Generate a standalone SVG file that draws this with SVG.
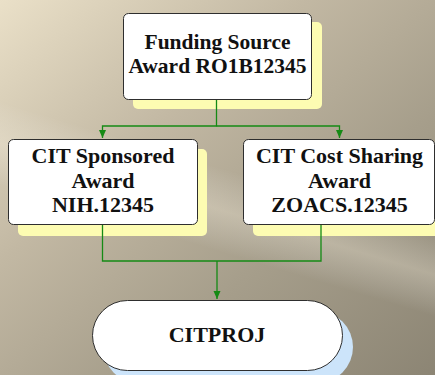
<svg xmlns="http://www.w3.org/2000/svg" width="435" height="375" viewBox="0 0 435 375">
  <defs>
    <linearGradient id="bg" x1="0" y1="0" x2="1" y2="1">
      <stop offset="0" stop-color="#eae0c8"/>
      <stop offset="0.35" stop-color="#c2b8a3"/>
      <stop offset="0.65" stop-color="#a69e8b"/>
      <stop offset="1" stop-color="#8c8574"/>
    </linearGradient>
    <linearGradient id="streak" x1="0" y1="1" x2="0.35" y2="0" gradientUnits="objectBoundingBox">
      <stop offset="0" stop-color="#ffffff" stop-opacity="0"/>
      <stop offset="0.45" stop-color="#ffffff" stop-opacity="0"/>
      <stop offset="0.55" stop-color="#fff8e8" stop-opacity="0.28"/>
      <stop offset="0.65" stop-color="#ffffff" stop-opacity="0"/>
      <stop offset="1" stop-color="#ffffff" stop-opacity="0"/>
    </linearGradient>
    <marker id="arrow" viewBox="0 0 8 8" refX="8" refY="4" markerWidth="8" markerHeight="8" markerUnits="userSpaceOnUse" orient="auto">
      <path d="M0,0.5 L8,4 L0,7.5 Z" fill="#158a15"/>
    </marker>
  </defs>
  <style>
    .shadow { fill: #fdfcb2; }
    .shadow2 { fill: #cce4fa; }
    .box { fill: #ffffff; stroke: #2e2e2e; stroke-width: 1; }
    .label { font-family: "Liberation Serif", "Times New Roman", serif; font-weight: bold; font-size: 22px; fill: #111111; text-anchor: middle; }
    .top { font-size: 21.5px; }
    .conn { fill: none; stroke: #158a15; stroke-width: 1.3; }
  </style>
  <rect x="0" y="0" width="435" height="375" fill="url(#bg)"/>
  <rect x="0" y="0" width="435" height="375" fill="url(#streak)"/>

  <g id="node-funding">
    <rect class="shadow" x="133" y="22" width="189" height="87" rx="5"/>
    <rect class="box" x="123.5" y="13.5" width="188" height="86" rx="5"/>
    <text class="label top" x="217.5" y="49">Funding Source</text>
    <text class="label top" x="217.5" y="73">Award RO1B12345</text>
  </g>

  <g id="node-sponsored">
    <rect class="shadow" x="18" y="149" width="189" height="87" rx="5"/>
    <rect class="box" x="8.5" y="139.5" width="189" height="85" rx="5"/>
    <text class="label" x="103" y="163">CIT Sponsored</text>
    <text class="label" x="103" y="188">Award</text>
    <text class="label" x="103" y="212">NIH.12345</text>
  </g>

  <g id="node-costsharing">
    <rect class="shadow" x="253" y="149" width="192" height="87" rx="5"/>
    <rect class="box" x="243.5" y="139.5" width="191" height="85" rx="5"/>
    <text class="label" x="339.5" y="163">CIT Cost Sharing</text>
    <text class="label" x="339.5" y="188">Award</text>
    <text class="label" x="339.5" y="212">ZOACS.12345</text>
  </g>

  <g id="node-citproj">
    <rect class="shadow2" x="103" y="311" width="250" height="72" rx="36"/>
    <rect class="box" x="92.5" y="300.5" width="250" height="70" rx="35"/>
    <text class="label" x="217" y="342">CITPROJ</text>
  </g>

  <g id="connectors">
    <path class="conn" d="M216.5,100 V126 H102.5 V138" marker-end="url(#arrow)"/>
    <path class="conn" d="M216.5,126 H339.5 V138" marker-end="url(#arrow)"/>
    <path class="conn" d="M102.5,225 V261 H321 V225"/>
    <path class="conn" d="M217,261 V299" marker-end="url(#arrow)"/>
  </g>
</svg>
